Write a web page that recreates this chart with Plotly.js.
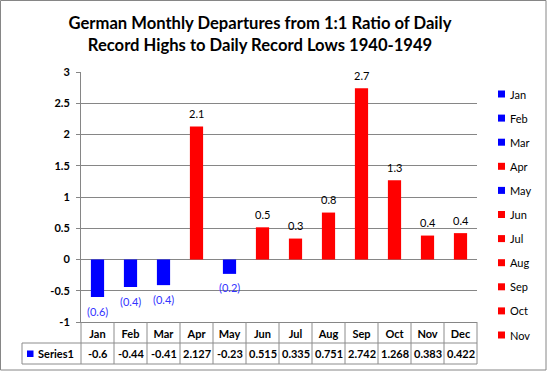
<!DOCTYPE html>
<html><head><meta charset="utf-8">
<script src="https://cdn.plot.ly/plotly-3.0.1.min.js"></script>
<style>html,body{margin:0;padding:0;background:#fff;}#chart{width:547px;height:371px;}</style>
</head><body><div id="chart"></div>
<script>
// ---- data ----
const months = ['Jan','Feb','Mar','Apr','May','Jun','Jul','Aug','Sep','Oct','Nov','Dec'];
const values = [-0.6, -0.44, -0.41, 2.127, -0.23, 0.515, 0.335, 0.751, 2.742, 1.268, 0.383, 0.422];
const yTickVals = [-1, -0.5, 0, 0.5, 1, 1.5, 2, 2.5, 3];
const yTickText = ['-1', '-0.5', '0', '0.5', '1', '1.5', '2', '2.5', '3'];
const legendMonths = months.slice(0, 11); // Dec entry is cut off in the original
const seriesName = 'Series1';
const titleText = 'German Monthly Departures from 1:1 Ratio of Daily<br>Record Highs to Daily Record Lows 1940-1949';

// ---- style ----
const POS = '#ff0000', NEG = '#0000ff', NEG_LABEL = '#3333ff';
const GRID = '#868686', TABLE = '#8c8c8c';
const FONT = 'Lato, "Open Sans", sans-serif';

// plot area in pixels
const L = 81, R = 477, T = 72, B = 322, W = R - L, H = B - T;
const px2x = p => (p - L) / W;
const py2y = p => (B - p) / H;

const colorOf = v => v < 0 ? NEG : POS;
const labelOf = v => v < 0 ? '(' + Math.abs(v).toFixed(1) + ')' : v.toFixed(1);

const trace = {
  type: 'bar', x: months, y: values, width: 0.4,
  marker: {color: values.map(colorOf)}, showlegend: false, hoverinfo: 'x+y'
};

const shapes = [];
const annotations = [];

// outer border
shapes.push({type: 'rect', xref: 'paper', yref: 'paper',
  x0: px2x(0.5), x1: px2x(546), y0: py2y(370), y1: py2y(0.5),
  line: {color: GRID, width: 1}});

// data labels
values.forEach((v, i) => {
  annotations.push({x: months[i], y: v, xref: 'x', yref: 'y', text: labelOf(v),
    showarrow: false, yanchor: 'middle', yshift: v < 0 ? -14 : 13,
    font: {family: FONT, size: 11, color: v < 0 ? NEG_LABEL : '#000'}});
});

// data table
const rowMid = 353.5, rowTop = 343, rowBot = 364, labelLeft = 22;
shapes.push({type: 'line', xref: 'paper', yref: 'paper', x0: px2x(labelLeft), x1: 1,
  y0: py2y(rowTop), y1: py2y(rowTop), line: {color: TABLE, width: 1}});
shapes.push({type: 'line', xref: 'paper', yref: 'paper', x0: px2x(labelLeft), x1: 1,
  y0: py2y(rowBot), y1: py2y(rowBot), line: {color: TABLE, width: 1}});
shapes.push({type: 'line', xref: 'paper', yref: 'paper', x0: px2x(labelLeft), x1: px2x(labelLeft),
  y0: py2y(rowTop), y1: py2y(rowBot), line: {color: TABLE, width: 1}});
for (let i = 0; i <= months.length; i++) {
  const xp = i / months.length;
  shapes.push({type: 'line', xref: 'paper', yref: 'paper', x0: xp, x1: xp,
    y0: 0, y1: py2y(rowBot), line: {color: TABLE, width: 1}});
}
shapes.push({type: 'rect', xref: 'paper', yref: 'paper',
  x0: px2x(27), x1: px2x(33.5), y0: py2y(357), y1: py2y(350.5),
  fillcolor: NEG, line: {width: 0}});
annotations.push({xref: 'paper', yref: 'paper', x: px2x(36), y: py2y(rowMid),
  xanchor: 'left', yanchor: 'middle', text: seriesName, showarrow: false,
  font: {family: FONT, size: 11, color: '#000', weight: 'bold'}});
values.forEach((v, i) => {
  annotations.push({x: months[i], xref: 'x', yref: 'paper', y: py2y(rowMid),
    yanchor: 'middle', text: String(v), showarrow: false,
    font: {family: FONT, size: 11, color: '#000', weight: 'bold'}});
});

// legend
legendMonths.forEach((m, i) => {
  const v = values[months.indexOf(m)];
  const cy = 94 + i * 24.1;
  shapes.push({type: 'rect', xref: 'paper', yref: 'paper',
    x0: px2x(498), x1: px2x(505), y0: py2y(cy + 3.5), y1: py2y(cy - 3.5),
    fillcolor: colorOf(v), line: {width: 0}});
  annotations.push({xref: 'paper', yref: 'paper', x: px2x(508), y: py2y(cy),
    xanchor: 'left', yanchor: 'middle', text: m, showarrow: false,
    font: {family: FONT, size: 11, color: '#000'}});
});

const layout = {
  width: 547, height: 371,
  margin: {l: L, r: 547 - R, t: T, b: 371 - B, pad: 0},
  paper_bgcolor: '#fff', plot_bgcolor: '#fff',
  font: {family: FONT, size: 11, color: '#000'},
  title: {text: titleText, font: {family: FONT, size: 16.6, color: '#000', weight: 'bold'},
    xref: 'container', x: 260 / 547, xanchor: 'center',
    yref: 'container', y: 1 - 29 / 371, yanchor: 'top'},
  barmode: 'overlay',
  xaxis: {type: 'category', range: [-0.5, 11.5], showline: true, linecolor: GRID, linewidth: 1,
    showgrid: false, ticks: '', ticklabelstandoff: 2,
    tickfont: {family: FONT, size: 11, color: '#000', weight: 'bold'}, fixedrange: true},
  yaxis: {range: [-1, 3], tickvals: yTickVals, ticktext: yTickText,
    showline: true, linecolor: GRID, linewidth: 1, showgrid: true, gridcolor: GRID, gridwidth: 1,
    zeroline: false, ticks: 'outside', ticklen: 4, tickcolor: GRID, ticklabelstandoff: 4,
    tickfont: {family: FONT, size: 11, color: '#000', weight: 'bold'}, fixedrange: true},
  shapes: shapes, annotations: annotations, showlegend: false
};

Plotly.newPlot('chart', [trace], layout, {displayModeBar: false, staticPlot: true});
</script>
</body></html>
